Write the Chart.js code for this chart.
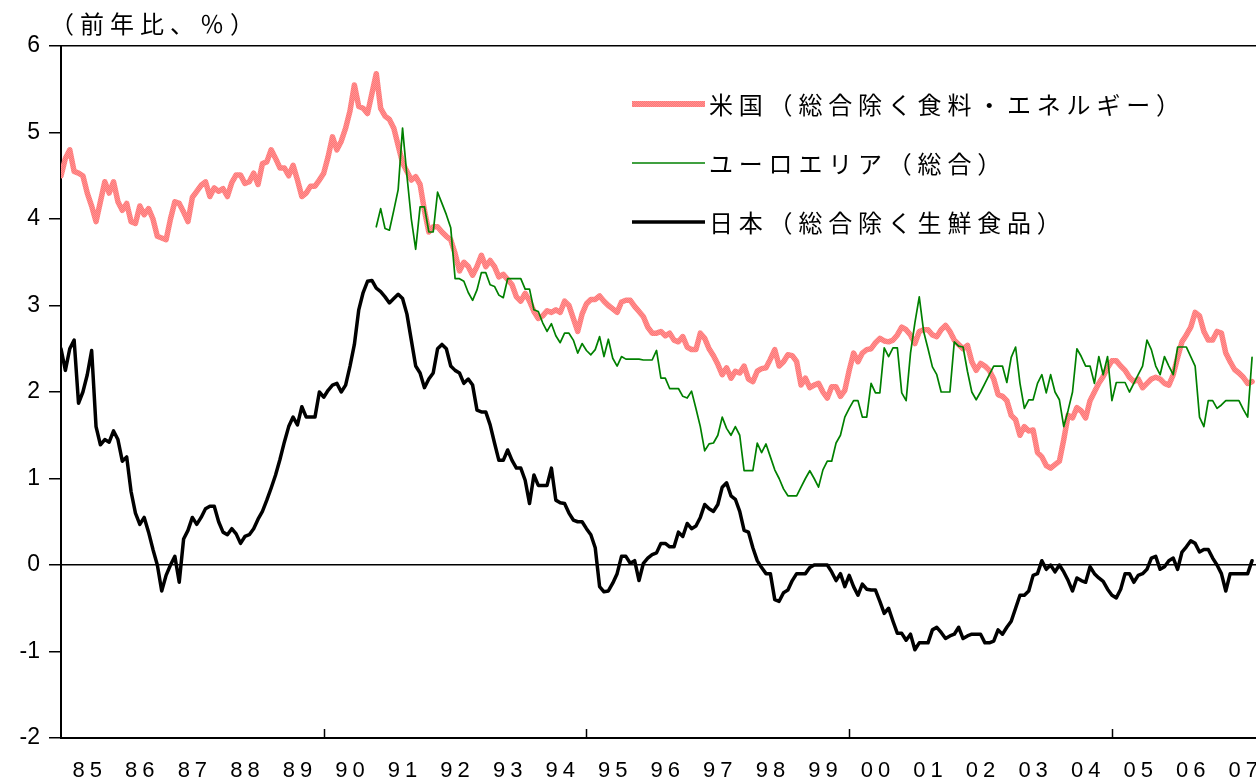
<!DOCTYPE html>
<html>
<head>
<meta charset="utf-8">
<script src="https://cdn.jsdelivr.net/npm/chart.js@4.4.1/dist/chart.umd.min.js"></script>
<style>
html,body{margin:0;padding:0;background:#fff;}
canvas{display:block;}
</style>
</head>
<body>
<canvas id="c" width="1256" height="782"></canvas>
<script>
// Year labels (one per calendar year, Jan 1985 = month 0)
const yearLabels = ['85','86','87','88','89','90','91','92','93','94','95','96','97','98','99','00','01','02','03','04','05','06','07'];
const yTicks = [-2,-1,0,1,2,3,4,5,6];
const titleText = '（前年比、％）';
const seriesNames = ['米国（総合除く食料・エネルギー）','ユーロエリア（総合）','日本（総合除く生鮮食品）'];

// US core CPI (y/y %), monthly from Jan 1985
const usCore = [
4.5,4.7,4.8,4.55,4.53,4.5,4.3,4.15,3.97,4.2,
4.43,4.3,4.43,4.2,4.1,4.18,3.97,3.95,4.15,4.05,
4.12,4.0,3.8,3.78,3.76,4.0,4.2,4.18,4.08,3.97,
4.25,4.32,4.39,4.43,4.26,4.36,4.32,4.35,4.26,4.42,
4.51,4.51,4.41,4.43,4.53,4.40,4.64,4.66,4.8,4.70,
4.59,4.59,4.5,4.62,4.45,4.26,4.3,4.38,4.38,4.45,
4.53,4.72,4.95,4.8,4.9,5.05,5.25,5.55,5.3,5.28,
5.22,5.45,5.68,5.28,5.19,5.15,5.05,4.85,4.65,4.55,
4.45,4.49,4.4,4.1,3.85,3.91,3.91,3.85,3.8,3.76,
3.6,3.4,3.5,3.45,3.35,3.45,3.58,3.45,3.52,3.45,
3.33,3.36,3.3,3.24,3.1,3.05,3.14,3.05,2.93,2.85,
2.88,2.94,2.92,2.95,2.92,3.05,3.0,2.85,2.7,2.9,
3.02,3.07,3.07,3.11,3.05,3.0,2.96,2.92,3.04,3.06,
3.06,2.99,2.93,2.87,2.75,2.68,2.68,2.7,2.65,2.68,
2.6,2.58,2.64,2.52,2.49,2.49,2.68,2.62,2.5,2.42,
2.32,2.2,2.28,2.16,2.24,2.22,2.3,2.15,2.12,2.24,
2.27,2.28,2.38,2.49,2.3,2.35,2.43,2.42,2.35,2.08,
2.16,2.05,2.08,2.1,2.0,1.93,2.06,2.06,1.95,2.02,
2.25,2.45,2.35,2.45,2.49,2.5,2.57,2.62,2.59,2.58,
2.6,2.66,2.75,2.72,2.66,2.56,2.7,2.72,2.72,2.66,
2.64,2.72,2.77,2.7,2.6,2.55,2.5,2.54,2.35,2.25,
2.33,2.3,2.25,2.15,1.97,1.95,1.9,1.73,1.68,1.5,
1.6,1.55,1.56,1.3,1.25,1.15,1.12,1.16,1.2,1.45,
1.73,1.7,1.82,1.78,1.7,1.9,2.0,2.1,2.18,2.28,
2.36,2.36,2.3,2.25,2.17,2.12,2.15,2.05,2.1,2.15,
2.17,2.15,2.1,2.08,2.2,2.4,2.58,2.66,2.75,2.92,
2.88,2.7,2.6,2.6,2.7,2.68,2.45,2.35,2.26,2.22,
2.17,2.1,2.12
];

// Euro area HICP (y/y %), monthly, starts Jan 1991 (month 72)
const euroStart = 72;
const euroHicp = [
3.91,4.12,3.89,3.87,4.1,4.34,5.05,4.5,
4.0,3.65,4.14,4.14,3.85,3.85,4.31,4.18,4.05,3.9,
3.31,3.31,3.28,3.15,3.06,3.18,3.38,3.38,3.24,3.22,
3.12,3.09,3.31,3.31,3.31,3.31,3.19,3.19,2.95,2.93,
2.8,2.7,2.79,2.65,2.57,2.68,2.68,2.6,2.45,2.56,
2.48,2.43,2.49,2.64,2.41,2.61,2.39,2.3,2.41,2.38,
2.38,2.38,2.38,2.37,2.37,2.37,2.48,2.16,2.16,2.04,
2.04,2.04,1.95,1.93,2.01,1.81,1.6,1.32,1.4,1.41,
1.5,1.71,1.58,1.5,1.6,1.5,1.09,1.09,1.09,1.41,
1.3,1.4,1.25,1.1,1.0,0.88,0.8,0.8,0.8,0.9,
1.0,1.09,1.0,0.9,1.1,1.2,1.2,1.41,1.5,1.71,
1.81,1.9,1.9,1.71,1.71,2.1,1.99,1.99,2.51,2.41,
2.51,2.51,1.99,1.9,2.45,2.8,3.1,2.7,2.5,2.29,
2.2,2.0,2.0,2.0,2.58,2.53,2.52,2.24,2.0,1.91,
2.0,2.1,2.2,2.3,2.3,2.3,2.11,2.4,2.52,2.1,
1.81,1.91,1.91,2.1,2.2,1.99,2.2,2.0,1.91,1.6,
1.79,2.0,2.5,2.41,2.3,2.3,2.1,2.41,2.2,2.41,
1.9,2.11,2.11,2.11,2.0,2.1,2.2,2.3,2.6,2.49,
2.3,2.2,2.41,2.3,2.2,2.52,2.52,2.52,2.41,2.3,
1.71,1.6,1.9,1.9,1.81,1.85,1.9,1.9,1.9,1.9,
1.8,1.71,2.4
];

// Japan core CPI (excl. fresh food, y/y %), monthly from Jan 1985
const japanCore = [
2.5,2.25,2.5,2.6,1.87,2.0,2.2,2.48,1.6,1.39,
1.45,1.42,1.55,1.45,1.2,1.25,0.85,0.6,0.47,0.55,
0.38,0.18,0.0,-0.3,-0.12,0.0,0.1,-0.2,0.3,0.4,
0.55,0.47,0.55,0.65,0.68,0.68,0.5,0.38,0.35,0.42,
0.36,0.25,0.33,0.35,0.42,0.53,0.62,0.75,0.89,1.04,
1.22,1.42,1.6,1.71,1.62,1.83,1.71,1.71,1.71,2.0,
1.94,2.02,2.08,2.1,2.0,2.08,2.3,2.55,2.95,3.15,
3.28,3.29,3.2,3.16,3.1,3.03,3.08,3.13,3.08,2.9,
2.6,2.3,2.22,2.05,2.15,2.22,2.5,2.55,2.5,2.3,
2.25,2.22,2.1,2.15,2.08,1.79,1.77,1.77,1.62,1.41,
1.21,1.21,1.33,1.21,1.12,1.12,0.98,0.71,1.04,0.92,
0.92,0.92,1.12,0.75,0.72,0.71,0.6,0.52,0.5,0.5,
0.42,0.35,0.2,-0.25,-0.31,-0.3,-0.21,-0.1,0.1,0.1,
0.02,0.05,-0.18,0.02,0.08,0.12,0.14,0.25,0.25,0.21,
0.21,0.38,0.33,0.48,0.42,0.45,0.55,0.7,0.65,0.62,
0.7,0.9,0.95,0.8,0.76,0.62,0.4,0.38,0.2,0.05,
-0.03,-0.1,-0.1,-0.4,-0.42,-0.32,-0.29,-0.18,-0.1,-0.1,
-0.1,-0.03,0.0,0.0,0.0,0.0,-0.08,-0.18,-0.1,-0.25,
-0.12,-0.25,-0.35,-0.22,-0.28,-0.29,-0.29,-0.42,-0.56,-0.5,
-0.65,-0.79,-0.79,-0.87,-0.8,-0.98,-0.9,-0.9,-0.9,-0.75,
-0.72,-0.78,-0.85,-0.82,-0.8,-0.72,-0.85,-0.82,-0.8,-0.8,
-0.8,-0.9,-0.9,-0.88,-0.75,-0.8,-0.72,-0.65,-0.5,-0.35,
-0.35,-0.3,-0.12,-0.1,0.05,-0.05,0.0,-0.08,0.0,-0.08,
-0.18,-0.3,-0.15,-0.18,-0.2,-0.02,-0.1,-0.15,-0.19,-0.28,
-0.35,-0.38,-0.28,-0.1,-0.1,-0.2,-0.12,-0.1,-0.05,0.08,
0.1,-0.05,-0.02,0.05,0.08,-0.05,0.15,0.21,0.28,0.25,
0.15,0.18,0.18,0.08,0.0,-0.1,-0.3,-0.1,-0.1,-0.1,
-0.1,-0.1,0.05
];

const toPoints = (arr, start) => arr.map((v, i) => ({x: start + i, y: v}));

const LABEL_FONT = '22px "Liberation Sans", Arial, sans-serif';
const JP_FONT = '"Noto Sans CJK JP", sans-serif';

// Lightly dithered pink stroke, like the reference's textured US line
function pinkPattern() {
  const p = document.createElement('canvas');
  p.width = 2; p.height = 2;
  const g = p.getContext('2d');
  g.fillStyle = 'rgb(255,118,118)'; g.fillRect(0, 0, 2, 2);
  g.fillStyle = 'rgb(255,146,146)'; g.fillRect(0, 0, 1, 1); g.fillRect(1, 1, 1, 1);
  return g.createPattern(p, 'repeat');
}
const usStroke = pinkPattern();

const decor = {
  id: 'decor',
  afterDraw(chart) {
    const ctx = chart.ctx;
    const xs = chart.scales.x;
    const area = chart.chartArea;
    ctx.save();
    // 5-year tick marks pointing into the plot
    ctx.strokeStyle = '#000';
    ctx.lineWidth = 1.5;
    for (let m = 60; m < xs.max; m += 60) {
      const px = Math.round(xs.getPixelForValue(m)) + 0.5;
      ctx.beginPath();
      ctx.moveTo(px, area.bottom);
      ctx.lineTo(px, area.bottom - 9);
      ctx.stroke();
    }
    // Year labels centred on each year
    ctx.fillStyle = '#000';
    ctx.font = LABEL_FONT;
    ctx.textBaseline = 'middle';
    ctx.textAlign = 'left';
    const ls = 5;
    if ('letterSpacing' in ctx) ctx.letterSpacing = ls + 'px';
    yearLabels.forEach((lab, k) => {
      const px = xs.getPixelForValue(12 * k + 6);
      const w = ctx.measureText(lab).width - ls;
      ctx.fillText(lab, px - w / 2, 771);
    });
    // Unit title
    ctx.font = '24px ' + JP_FONT;
    if ('letterSpacing' in ctx) ctx.letterSpacing = '6px';
    ctx.fillText(titleText, 50, 24);
    // Legend
    ctx.font = '24px ' + JP_FONT;
    if ('letterSpacing' in ctx) ctx.letterSpacing = '5.8px';
    const rowY = [104, 163, 222];
    [0, 1, 2].forEach((di, r) => {
      const ds = chart.data.datasets[di];
      ctx.strokeStyle = ds.borderColor;
      ctx.lineWidth = ds.legendWidth;
      ctx.beginPath();
      ctx.moveTo(632, rowY[r]);
      ctx.lineTo(705, rowY[r]);
      ctx.stroke();
      ctx.fillStyle = '#000';
      ctx.fillText(ds.label, 709, rowY[r] + 1);
    });
    ctx.restore();
  }
};

new Chart(document.getElementById('c'), {
  type: 'line',
  data: {
    datasets: [
      {label: seriesNames[0], data: toPoints(usCore, 0), borderColor: usStroke, borderWidth: 5.5, legendWidth: 6, order: 2},
      {label: seriesNames[1], data: toPoints(euroHicp, euroStart), borderColor: '#008000', borderWidth: 1.7, legendWidth: 1.7, order: 0},
      {label: seriesNames[2], data: toPoints(japanCore, 0), borderColor: '#000000', borderWidth: 3.5, legendWidth: 3.5, order: 1}
    ]
  },
  options: {
    responsive: false,
    animation: false,
    devicePixelRatio: 1,
    layout: {padding: {top: 46, left: 0, right: 0, bottom: 0}},
    elements: {
      point: {radius: 0},
      line: {tension: 0, borderJoinStyle: 'round', borderCapStyle: 'round', fill: false}
    },
    plugins: {legend: {display: false}, tooltip: {enabled: false}, title: {display: false}},
    scales: {
      x: {
        type: 'linear', min: 0, max: 272.9,
        grid: {display: false},
        border: {display: true, color: '#000', width: 2},
        ticks: {display: false},
        afterFit(s) { s.height = 44; }
      },
      y: {
        min: -2, max: 6,
        afterBuildTicks(s) { s.ticks = yTicks.map(v => ({value: v})); },
        ticks: {color: '#000', font: {family: '"Liberation Sans", Arial, sans-serif', size: 23}, padding: 9},
        grid: {
          drawOnChartArea: true,
          color: c => (c.tick && (c.tick.value === 0 || c.tick.value === 6)) ? '#000' : 'rgba(0,0,0,0)',
          lineWidth: 1.5,
          tickColor: '#000',
          tickWidth: 1.5,
          tickLength: 12
        },
        border: {display: true, color: '#000', width: 2},
        afterFit(s) { s.width = 61; }
      }
    }
  },
  plugins: [decor]
});
</script>
</body>
</html>
